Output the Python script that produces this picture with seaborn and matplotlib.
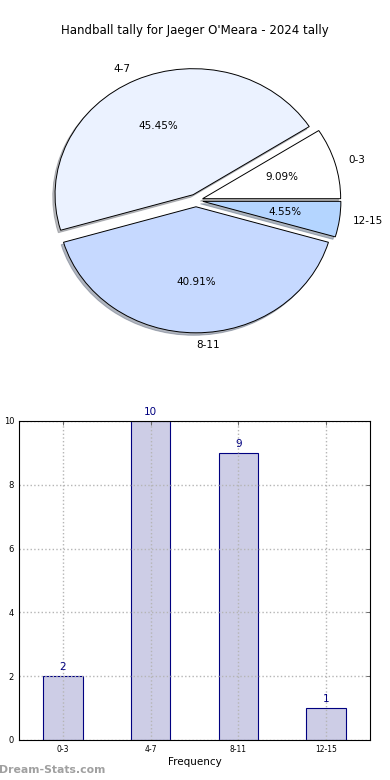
import matplotlib
matplotlib.use("Agg")
import matplotlib.pyplot as plt
import seaborn as sns
import pandas as pd

categories = ["0-3", "4-7", "8-11", "12-15"]
counts = [2, 10, 9, 1]
pie_colors = ["#ffffff", "#ebf2ff", "#c6d9ff", "#b4d5ff"]
title = "Handball tally for Jaeger O'Meara - 2024 tally"
y_ticks = [0, 2, 4, 6, 8, 10]

sns.set_style("white")
plt.rcParams['font.family'] = ['DejaVu Sans']
plt.rcParams['text.color'] = 'black'
plt.rcParams['axes.labelcolor'] = 'black'

fig = plt.figure(figsize=(3.9, 7.8), dpi=100)

# Pie
ax1 = fig.add_axes([0.06, 0.541, 0.885, 0.404])
wedges, texts, autotexts = ax1.pie(
    counts, labels=categories, colors=pie_colors, explode=[0.05] * 4,
    autopct='%1.2f%%', shadow={'ox': -0.012, 'oy': -0.014, 'shade': 0.5},
    startangle=0,
    wedgeprops=dict(edgecolor='black', linewidth=0.7),
    textprops=dict(fontsize=7.5, color='black'))
ax1.set_aspect('auto')
ax1.set_xlim(-1.25, 1.25)
ax1.set_ylim(-1.25, 1.25)
fig.text(0.5, 0.961, title, ha='center', va='center', fontsize=8.5, color='black')

# Bar
ax2 = fig.add_axes([0.0487, 0.0513, 0.9, 0.409])
df = pd.DataFrame({"cat": categories, "count": counts})
sns.barplot(data=df, x="cat", y="count", ax=ax2, color="#cdcde6",
            edgecolor="#000080", linewidth=0.8, width=0.45, saturation=1)
ax2.set_xlim(-0.5, 3.5)
ax2.set_ylim(0, 10)
ax2.set_yticks(y_ticks)
ax2.grid(True, linestyle=':', color='#b5b5b5', linewidth=1)
ax2.set_axisbelow(False)
for s in ax2.spines.values():
    s.set_visible(True)
    s.set_color('black')
    s.set_linewidth(0.8)
    s.set_zorder(5)
ax2.tick_params(axis='both', direction='in', length=3, width=0.6,
                top=True, right=True, colors='#555555', labelcolor='black')
ax2.tick_params(axis='x', labelsize=5.5)
ax2.tick_params(axis='y', labelsize=6)
for i, v in enumerate(counts):
    ax2.text(i, v + 0.12, str(v), ha='center', va='bottom', fontsize=7.5, color='#000080')
ax2.set_xlabel("Frequency", fontsize=7.5, labelpad=2)
ax2.set_ylabel("Total Matches", fontsize=6.5, labelpad=6)

fig.text(-0.003, 0.013, "Dream-Stats.com", ha='left', va='center', fontsize=7.8,
         fontweight='bold', color='#a0a0a0')

fig.savefig("out.png", dpi=100)
